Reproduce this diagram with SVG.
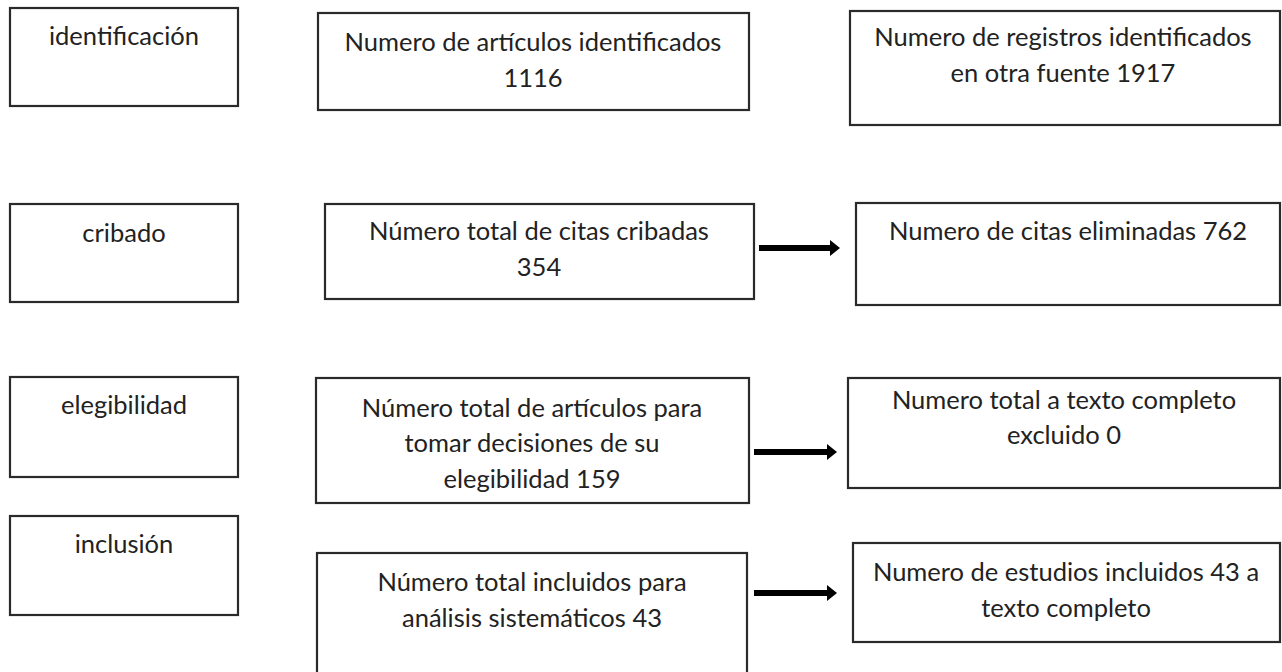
<svg xmlns="http://www.w3.org/2000/svg" width="1282" height="672" viewBox="0 0 1282 672">
<style>
.box{fill:#fff;stroke:#2a2a2a;stroke-width:2.2}
.t{font-family:Lato,"Open Sans","Liberation Sans",sans-serif;font-size:25.5px;fill:#222;text-anchor:middle}
.arrow{stroke:#000;stroke-width:6;fill:none}
</style>
<defs>
<marker id="ah" markerUnits="userSpaceOnUse" markerWidth="10" markerHeight="16" refX="1" refY="8" orient="auto">
<path d="M0,0 L10,8 L0,16 Z" fill="#000"/>
</marker>
</defs>
<rect width="1282" height="672" fill="#fff"/>
<g id="n-identificacion"><rect class="box" x="10" y="8" width="228" height="98"/><text class="t" x="124" y="45">identificación</text></g>
<g id="n-articulos"><rect class="box" x="318" y="13" width="431" height="97"/><text class="t" x="533" y="51">Numero de artículos identificados<tspan x="533" y="87">1116</tspan></text></g>
<g id="n-registros"><rect class="box" x="850" y="11" width="430" height="114"/><text class="t" x="1063" y="46">Numero de registros identificados<tspan x="1063" y="82">en otra fuente 1917</tspan></text></g>
<g id="n-cribado"><rect class="box" x="10" y="204" width="228" height="98"/><text class="t" x="124" y="242">cribado</text></g>
<g id="n-cribadas"><rect class="box" x="325" y="204" width="429" height="95"/><text class="t" x="539" y="240">Número total de citas cribadas<tspan x="539" y="276">354</tspan></text></g>
<g id="n-eliminadas"><rect class="box" x="856" y="203" width="424" height="102"/><text class="t" x="1068" y="240">Numero de citas eliminadas 762</text></g>
<g id="n-elegibilidad"><rect class="box" x="10" y="377" width="228" height="100"/><text class="t" x="124" y="414">elegibilidad</text></g>
<g id="n-decisiones"><rect class="box" x="316" y="378" width="433" height="125"/><text class="t" x="532" y="417">Número total de artículos para<tspan x="532" y="452">tomar decisiones de su</tspan><tspan x="532" y="488">elegibilidad 159</tspan></text></g>
<g id="n-excluido"><rect class="box" x="848" y="378" width="432" height="110"/><text class="t" x="1064" y="409">Numero total a texto completo<tspan x="1064" y="444">excluido 0</tspan></text></g>
<g id="n-inclusion"><rect class="box" x="10" y="516" width="228" height="99"/><text class="t" x="124" y="553">inclusión</text></g>
<g id="n-incluidos"><rect class="box" x="317" y="553" width="430" height="130"/><text class="t" x="532" y="591">Número total incluidos para<tspan x="532" y="627">análisis sistemáticos 43</tspan></text></g>
<g id="n-estudios"><rect class="box" x="853" y="543" width="427" height="99"/><text class="t" x="1066" y="581">Numero de estudios incluidos 43 a<tspan x="1066" y="617">texto completo</tspan></text></g>
<g id="connectors">
<line class="arrow" x1="759" y1="248" x2="831" y2="248" marker-end="url(#ah)"/>
<line class="arrow" x1="754" y1="452" x2="828" y2="452" marker-end="url(#ah)"/>
<line class="arrow" x1="754" y1="593" x2="828" y2="593" marker-end="url(#ah)"/>
</g>
</svg>
